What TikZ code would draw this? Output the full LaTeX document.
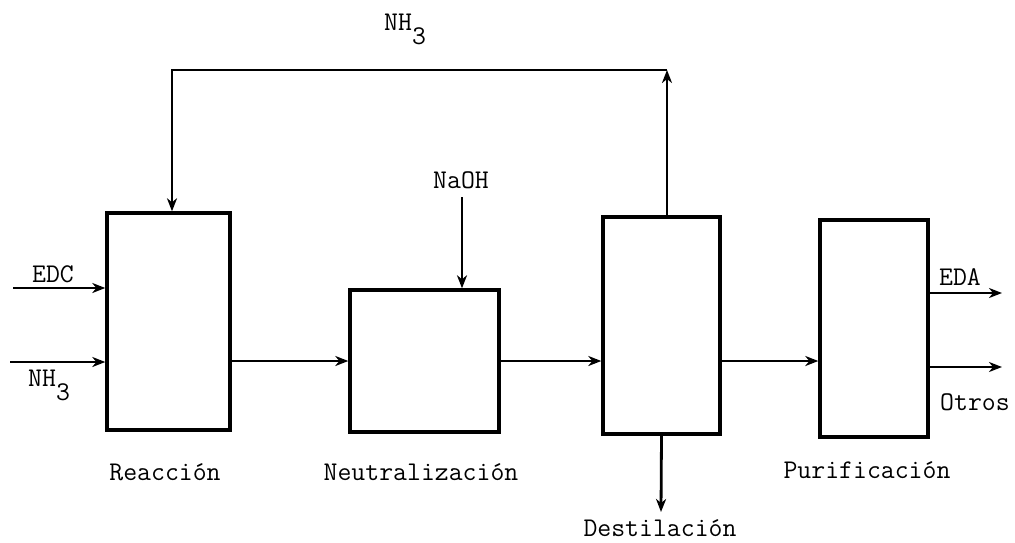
\documentclass[tikz,border=0pt]{standalone}
\usetikzlibrary{arrows.meta}
\newcommand\lowsub[1]{\raisebox{-14pt}{#1}}
\begin{document}
\begin{tikzpicture}[x=1pt,y=-1pt,
  box/.style={draw, line width=3.4pt, inner sep=0pt},
  flow/.style={line width=2.8pt, -{Stealth[length=13pt,width=10pt,inset=4pt]}},
  lbl/.style={font=\ttfamily\fontsize{27}{30}\selectfont, inner sep=0pt, anchor=base}]
\useasboundingbox (0,0) rectangle (1015,542);
% units
\node[box, minimum width=123pt, minimum height=217pt] (reac) at (168.5,321.5) {};
\node[box, minimum width=149pt, minimum height=142pt] (neut) at (424.5,361) {};
\node[box, minimum width=117pt, minimum height=217pt] (dest) at (661.5,325.5) {};
\node[box, minimum width=108pt, minimum height=217pt] (puri) at (874,328.5) {};
% free ends
\coordinate (edcin) at (13,288);
\coordinate (nhin) at (10,362);
\coordinate (r1) at (667,70);
\coordinate (r2) at (172,70);
\coordinate (naohin) at (462,197);
\coordinate (dout) at (661,512);
\coordinate (edaout) at (1002,293);
\coordinate (otout) at (1002,367);
% connectors
\draw[flow] (edcin) -- (edcin -| reac.west);
\draw[flow] (nhin) -- (nhin -| reac.west);
\draw[flow] (reac.east |- neut.west) -- (neut.west);
\draw[flow] (neut.east) -- (neut.east -| dest.west);
\draw[flow] (dest.east |- neut.east) -- (puri.west |- neut.east);
\draw[flow] (naohin) -- (naohin |- neut.north);
\draw[flow] (r1 |- dest.north) -- (r1);
\draw[flow] (r1) -- (r2) -- (r2 |- reac.north);
\draw[flow] (dest.south) -- (dout);
\draw[flow] (edaout -| puri.east) -- (edaout);
\draw[flow] (otout -| puri.east) -- (otout);
% labels
\node[lbl, anchor=base west] (ltop) at (384,30) {NH\lowsub{3}};
\node[lbl] (lnaoh) at (461,188) {NaOH};
\node[lbl] (ledc) at (53,282) {EDC};
\node[lbl, anchor=base west] (lnh) at (28,386) {NH\lowsub{3}};
\node[lbl] (leda) at (960,285) {EDA};
\node[lbl] (lotros) at (975,410) {Otros};
\node[lbl] (lreac) at (165,480) {Reacción};
\node[lbl] (lneut) at (421,480) {Neutralización};
\node[lbl] (lpuri) at (867,478) {Purificación};
\node[lbl] (ldest) at (660,536) {Destilación};
\end{tikzpicture}
\end{document}
